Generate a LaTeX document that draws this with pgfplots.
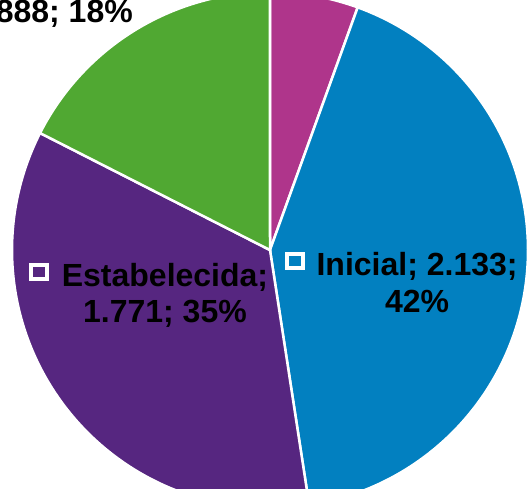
\documentclass[border=0pt]{standalone}
\usepackage{pgfplots}
\pgfplotsset{compat=1.18}
\usepackage{fontspec}
\setmainfont{Liberation Sans}
\definecolor{cMag}{RGB}{175,53,139}
\definecolor{cIni}{RGB}{2,128,192}
\definecolor{cEst}{RGB}{86,38,128}
\definecolor{cCon}{RGB}{80,168,50}
% data values
\def\vMag{280}\def\vIni{2133}\def\vEst{1771}\def\vCon{888}
\pgfmathsetmacro\tot{\vMag+\vIni+\vEst+\vCon}
\pgfmathsetmacro\aA{90}
\pgfmathsetmacro\aB{\aA-360*(\vMag/\tot)}
\pgfmathsetmacro\aC{\aB-360*(\vIni/\tot)}
\pgfmathsetmacro\aD{\aC-360*(\vEst/\tot)}
\pgfmathsetmacro\aE{\aD-360*(\vCon/\tot)}
\newcommand\keybox{\tikz[baseline=0pt]\draw[white,line width=4pt](2pt,7pt) rectangle (18pt,21pt);}
\tikzset{lbl/.style={font=\fontsize{32}{37}\selectfont\bfseries, anchor=base, inner sep=0pt}}
\begin{document}
\begin{tikzpicture}
\begin{axis}[hide axis, scale only axis, width=532pt, height=489pt,
  xmin=-1.0465, xmax=1.0155, ymin=-0.926, ymax=0.969, clip=true]
\addplot[fill=cMag, draw=white, line width=2.5pt, domain=\aB:\aA, samples=40, variable=\t] ({cos(\t)},{sin(\t)}) -- (axis cs:0,0) -- cycle;
\addplot[fill=cIni, draw=white, line width=2.5pt, domain=\aC:\aB, samples=120, variable=\t] ({cos(\t)},{sin(\t)}) -- (axis cs:0,0) -- cycle;
\addplot[fill=cEst, draw=white, line width=2.5pt, domain=\aD:\aC, samples=120, variable=\t] ({cos(\t)},{sin(\t)}) -- (axis cs:0,0) -- cycle;
\addplot[fill=cCon, draw=white, line width=2.5pt, domain=\aE:\aD, samples=80, variable=\t] ({cos(\t)},{sin(\t)}) -- (axis cs:0,0) -- cycle;
\node[lbl] at (axis cs:0.570,-0.0969) {\llap{\keybox\hspace{12pt}}Inicial; 2.133;};
\node[lbl] at (axis cs:0.570,-0.2403) {42\%};
\node[lbl] at (axis cs:-0.407,-0.1395) {\llap{\keybox\hspace{13pt}}Estabelecida;};
\node[lbl] at (axis cs:-0.407,-0.2791) {1.771; 35\%};
\node[lbl, anchor=base east] at (axis cs:-0.531,0.8837) {888; 18\%};
\end{axis}
\pgfresetboundingbox
\useasboundingbox (current axis.south west) rectangle (current axis.north east);
\end{tikzpicture}
\end{document}
